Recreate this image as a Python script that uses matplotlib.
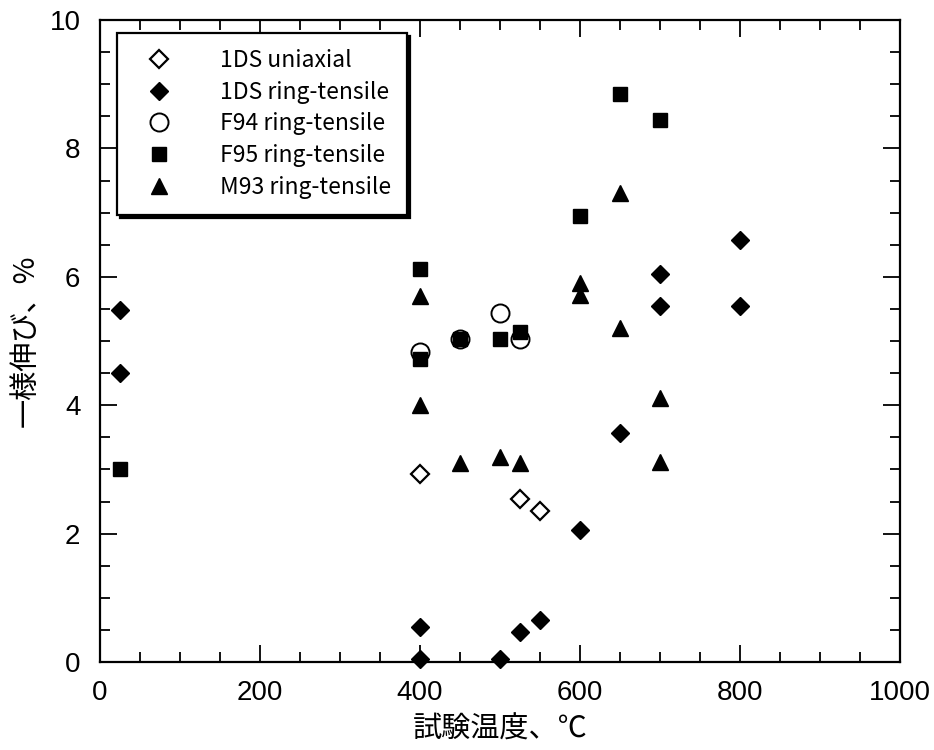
import matplotlib
matplotlib.use("Agg")
import matplotlib.pyplot as plt
from matplotlib.ticker import MultipleLocator

# 1DS uniaxial
uni_t = [400, 525, 550]
uni_e = [2.93, 2.54, 2.35]

# 1DS ring-tensile
ds_t = [25, 25, 400, 400, 500, 525, 550, 600, 650, 700, 700, 800, 800]
ds_e = [5.48, 4.50, 0.54, 0.04, 0.04, 0.46, 0.65, 2.05, 3.56, 6.05, 5.55, 6.58, 5.55]

# F94 ring-tensile
f94_t = [400, 450, 500, 525]
f94_e = [4.83, 5.03, 5.43, 5.03]

# F95 ring-tensile
f95_t = [25, 400, 400, 450, 500, 525, 600, 650, 700]
f95_e = [3.00, 6.12, 4.72, 5.03, 5.03, 5.14, 6.95, 8.84, 8.45]

# M93 ring-tensile
m93_t = [400, 400, 450, 500, 525, 600, 600, 650, 650, 700, 700]
m93_e = [5.70, 4.01, 3.10, 3.20, 3.10, 5.90, 5.71, 7.31, 5.20, 4.11, 3.12]

plt.rcParams["font.family"] = ["Liberation Sans", "Noto Sans CJK JP", "DejaVu Sans"]

fig = plt.figure(figsize=(9.34, 7.5), dpi=100)
ax = fig.add_axes([0.107, 0.1173, 0.8566, 0.856])

ax.plot(uni_t, uni_e, linestyle="none", marker="D", ms=9.5, mfc="white",
        mec="black", mew=1.6, label="1DS uniaxial", zorder=3)
ax.plot(ds_t, ds_e, linestyle="none", marker="D", ms=9.5, mfc="black",
        mec="black", label="1DS ring-tensile", zorder=3, clip_on=False)
ax.plot(f94_t, f94_e, linestyle="none", marker="o", ms=13, mfc="white",
        mec="black", mew=1.4, label="F94 ring-tensile", zorder=3)
ax.plot(f95_t, f95_e, linestyle="none", marker="s", ms=10.5, mfc="black",
        mec="black", label="F95 ring-tensile", zorder=4)
ax.plot(m93_t, m93_e, linestyle="none", marker="^", ms=12, mfc="black",
        mec="black", label="M93 ring-tensile", zorder=3)

ax.set_xlim(0, 1000)
ax.set_ylim(0, 10)
ax.xaxis.set_major_locator(MultipleLocator(200))
ax.xaxis.set_minor_locator(MultipleLocator(50))
ax.yaxis.set_major_locator(MultipleLocator(2))
ax.yaxis.set_minor_locator(MultipleLocator(0.5))
ax.tick_params(which="both", direction="in", top=True, right=True,
               width=1.3, labelsize=20)
ax.tick_params(axis="x", pad=13)
ax.tick_params(axis="y", pad=14)
ax.tick_params(which="major", length=12)
ax.tick_params(which="minor", length=7)
for s in ax.spines.values():
    s.set_linewidth(1.6)

ax.set_xlabel("試験温度、℃", fontsize=21, family=["Noto Sans CJK JP"], labelpad=6)
ax.set_ylabel("一様伸び、%", fontsize=21, family=["Noto Sans CJK JP"], labelpad=6)

leg = ax.legend(loc="upper left", bbox_to_anchor=(0.021, 0.98),
                frameon=True, fancybox=False, edgecolor="black",
                shadow={"color": "black", "alpha": 1.0}, borderpad=0.7,
                handletextpad=1.5, labelspacing=0.38, borderaxespad=0.0,
                handlelength=2.3, prop={"family": ["Noto Sans CJK JP"], "size": 16.5})
leg.get_frame().set_linewidth(1.6)
leg.get_frame().set_alpha(1.0)

fig.savefig("out.png", dpi=100)
